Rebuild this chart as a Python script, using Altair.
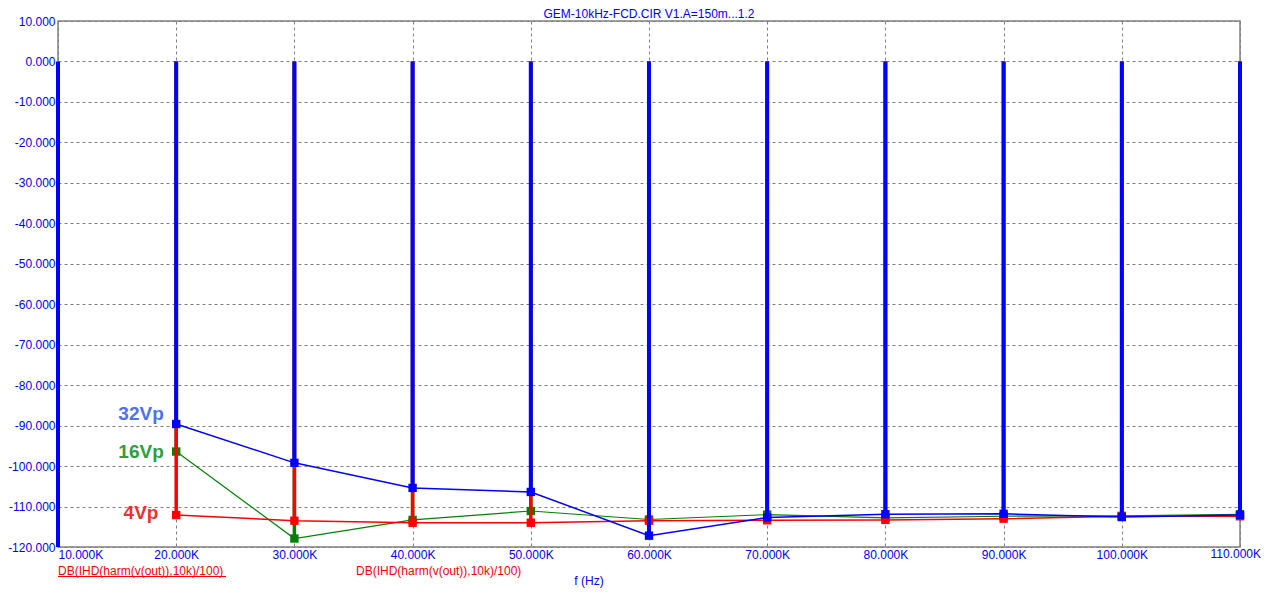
import altair as alt
import pandas as pd

# ---------------- data ----------------
freqs_k = [20, 30, 40, 50, 60, 70, 80, 90, 100, 110]
vp32 = [-89.6, -99.2, -105.4, -106.4, -117.2, -112.7, -111.9, -111.8, -112.6, -112.1]
vp16 = [-96.4, -117.9, -113.3, -111.1, -113.2, -112.0, -112.8, -112.4, -112.3, -111.9]
vp4 = [-112.1, -113.5, -114.0, -114.0, -113.5, -113.4, -113.3, -113.0, -112.4, -112.4]
fund_freq_k = [10]
fund_stem_bottom = [-120]

x_ticks = [10, 20, 30, 40, 50, 60, 70, 80, 90, 100, 110]
y_ticks = [10, 0, -10, -20, -30, -40, -50, -60, -70, -80, -90, -100, -110, -120]
last_x_tick = [110]

series_names = ["16Vp", "4Vp", "32Vp"]
series_vals = [vp16, vp4, vp32]
series_colors = ["#008000", "#FF0000", "#0000FF"]
series_line_w = [1.2, 1.5, 1.5]
series_bar_w = [3.5, 3.5, 4]
label_colors = ["#2E9E3E", "#EE3030", "#4F70F0"]
label_x = [18.95, 18.5, 18.95]
label_y = [-96.5, -111.6, -87.1]

title_text = "GEM-10kHz-FCD.CIR V1.A=150m...1.2"
expr_text = "DB(IHD(harm(v(out)),10k)/100)"
xaxis_text = "f (Hz)"

FONT = "Liberation Sans"
AXIS_BLUE = "#0000FF"

W, H = 1182, 526
PAD_R = 22

xs = alt.Scale(domain=[10, 110], nice=False, zero=False)
ys = alt.Scale(domain=[-120, 10], nice=False, zero=False)

x_axis = alt.Axis(
    values=x_ticks, title=None, ticks=False, domain=False,
    labelExpr="datum.value == 110 ? '' : format(datum.value, '.3f') + 'K'",
    labelAlign=alt.ExprRef(expr="datum.value == 10 ? 'left' : 'center'"),
    labelColor=AXIS_BLUE, labelFont=FONT, labelFontSize=12, labelPadding=2,
    grid=True, gridDash=[3, 3], gridColor="#808080", gridWidth=1,
)
y_axis = alt.Axis(
    values=y_ticks, title=None, ticks=False, domain=False,
    labelExpr="(datum.value < 0 ? '-' : '') + format(abs(datum.value), '.3f')",
    labelColor=AXIS_BLUE, labelFont=FONT, labelFontSize=12, labelPadding=3,
    grid=True, gridDash=[3, 3], gridColor="#808080", gridWidth=1,
)

# axis / grid layer
base_df = pd.DataFrame({"f": [10, 110], "v": [-120, 10]})
axes_layer = alt.Chart(base_df).mark_point(opacity=0).encode(
    x=alt.X("f:Q", scale=xs, axis=x_axis),
    y=alt.Y("v:Q", scale=ys, axis=y_axis),
)

layers = [axes_layer]

# last x tick label, kept inside the page
last_df = pd.DataFrame({"f": last_x_tick, "v": [-120]})
layers.append(
    alt.Chart(last_df).mark_text(align="right", baseline="top", fontSize=12, font=FONT,
                                 color=AXIS_BLUE, dx=PAD_R - 1, dy=2).encode(
        x=alt.X("f:Q", scale=xs), y=alt.Y("v:Q", scale=ys),
        text=alt.Text("f:Q", format=".3f"),
    ).transform_calculate(lbl="format(datum.f, '.3f') + 'K'").encode(text="lbl:N")
)

# fundamental stem at 10K
fund_df = pd.DataFrame({"f": fund_freq_k, "v": fund_stem_bottom})
layers.append(
    alt.Chart(fund_df).mark_rule(color="#0000FF", strokeWidth=4).encode(
        x=alt.X("f:Q", scale=xs), y=alt.Y("v:Q", scale=ys), y2=alt.datum(0)
    )
)

for name, vals, col, lw, bw in zip(series_names, series_vals, series_colors,
                                   series_line_w, series_bar_w):
    df = pd.DataFrame({"f": freqs_k, "v": vals})
    layers.append(
        alt.Chart(df).mark_rule(color=col, strokeWidth=bw).encode(
            x=alt.X("f:Q", scale=xs), y=alt.Y("v:Q", scale=ys), y2=alt.datum(0)
        )
    )
    layers.append(
        alt.Chart(df).mark_line(color=col, strokeWidth=lw).encode(
            x=alt.X("f:Q", scale=xs), y=alt.Y("v:Q", scale=ys)
        )
    )
    layers.append(
        alt.Chart(df).mark_square(color=col, size=70, opacity=1).encode(
            x=alt.X("f:Q", scale=xs), y=alt.Y("v:Q", scale=ys)
        )
    )

# series labels
lab_df = pd.DataFrame({"t": series_names, "f": label_x, "v": label_y, "c": label_colors})
layers.append(
    alt.Chart(lab_df).mark_text(align="right", baseline="middle", fontSize=19,
                                fontWeight="bold", font=FONT).encode(
        x=alt.X("f:Q", scale=xs), y=alt.Y("v:Q", scale=ys),
        text="t:N", color=alt.Color("c:N", scale=None)
    )
)

# title and bottom texts
one = pd.DataFrame({"a": [0]})
layers.append(alt.Chart(one).mark_text(text=title_text, align="center", baseline="middle",
                                       fontSize=12, font=FONT, color=AXIS_BLUE).encode(
    x=alt.value(W / 2), y=alt.value(-7)))
layers.append(alt.Chart(one).mark_text(text=expr_text, align="left", baseline="middle",
                                       fontSize=12, font=FONT, color="#FF0000").encode(
    x=alt.value(0), y=alt.value(550)))
layers.append(alt.Chart(one).mark_text(text=expr_text, align="left", baseline="middle",
                                       fontSize=12, font=FONT, color="#FF0000").encode(
    x=alt.value(298), y=alt.value(550)))
layers.append(alt.Chart(one).mark_rule(color="#FF0000", strokeWidth=1).encode(
    x=alt.value(0), x2=alt.value(168), y=alt.value(555.5)))
layers.append(alt.Chart(one).mark_text(text=xaxis_text, align="center", baseline="middle",
                                       fontSize=12, font=FONT, color=AXIS_BLUE).encode(
    x=alt.value(531), y=alt.value(560)))

chart = alt.layer(*layers).properties(
    width=W, height=H,
    autosize=alt.AutoSizeParams(type="none"),
    padding={"left": 50, "top": 13, "right": PAD_R, "bottom": 42},
    background="white",
).configure_view(stroke="#808080", strokeWidth=1.5)

chart.save("out.html", embed_options={"renderer": "svg", "actions": False})
